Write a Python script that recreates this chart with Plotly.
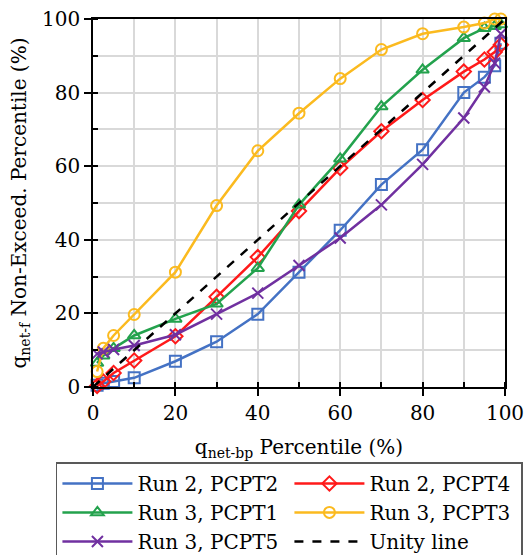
import plotly.graph_objects as go

x_pct = [1, 2.5, 5, 10, 20, 30, 40, 50, 60, 70, 80, 90, 95, 97.5, 99]

run2_pcpt2 = [0.5, 1.0, 1.5, 2.5, 7.0, 12.3, 19.8, 31.2, 42.6, 55.0, 64.5, 80.0, 84.2, 87.3, 93.4]
run2_pcpt4 = [0.3, 1.5, 3.8, 7.2, 13.8, 24.5, 35.3, 47.8, 59.5, 69.5, 78.0, 85.7, 89.0, 91.0, 93.0]
run3_pcpt1 = [6.5, 8.5, 10.5, 14.0, 18.5, 22.6, 32.3, 49.5, 62.0, 76.2, 86.2, 94.8, 97.5, 98.0, 98.5]
run3_pcpt3 = [4.2, 10.5, 14.0, 19.7, 31.2, 49.3, 64.2, 74.4, 83.8, 91.7, 96.0, 97.8, 98.9, 100.0, 100.0]
run3_pcpt5 = [9.0, 9.5, 10.2, 11.3, 14.2, 19.8, 25.5, 33.0, 40.5, 49.5, 60.5, 73.1, 81.5, 88.0, 96.0]
unity_x = [0, 100]
unity_y = [0, 100]

series = [
    ("Run 2, PCPT2", run2_pcpt2, "#4472C4", "square-open"),
    ("Run 2, PCPT4", run2_pcpt4, "#FF1A1A", "diamond-open"),
    ("Run 3, PCPT1", run3_pcpt1, "#23A24D", "triangle-up-open"),
    ("Run 3, PCPT3", run3_pcpt3, "#FBBA1F", "circle-open"),
    ("Run 3, PCPT5", run3_pcpt5, "#7030A0", "x-thin-open"),
]

FONT = "DejaVu Serif"
fig = go.Figure()
for name, ys, col, sym in series:
    fig.add_trace(go.Scatter(
        x=x_pct, y=ys, name=name, mode="lines+markers",
        line=dict(color=col, width=2.5),
        marker=dict(symbol=sym, size=11, color=col, line=dict(color=col, width=2)),
        cliponaxis=False,
    ))
fig.add_trace(go.Scatter(
    x=unity_x, y=unity_y, name="Unity line", mode="lines",
    line=dict(color="black", width=2.5, dash="dash"),
))

axis_common = dict(
    range=[0, 100], tickvals=[0, 20, 40, 60, 80, 100],
    showgrid=True, gridcolor="#D9D9D9", gridwidth=2,
    minor=dict(dtick=10, showgrid=True, gridcolor="#D9D9D9", gridwidth=2,
               ticks="inside", ticklen=5, tickcolor="black"),
    ticks="outside", ticklen=7, tickcolor="black", tickwidth=1.5,
    showline=True, linecolor="black", linewidth=1.5, mirror=True,
    zeroline=False, tickfont=dict(family=FONT, size=20, color="black"),
)

fig.update_layout(
    width=531, height=555,
    margin=dict(l=93, r=26, t=19, b=168, autoexpand=False),
    paper_bgcolor="white", plot_bgcolor="white",
    font=dict(family=FONT, size=20, color="black"),
    showlegend=True,
    legend=dict(
        orientation="h", x=-0.09, xanchor="left", y=-0.205, yanchor="top",
        entrywidth=147, entrywidthmode="pixels", itemwidth=70,
        bordercolor="#595959", borderwidth=1.5, bgcolor="white",
        font=dict(family=FONT, size=20, color="black"),
        traceorder="normal",
    ),
)
fig.update_xaxes(**axis_common, title=dict(text="q<sub>net-bp</sub> Percentile (%)",
                 font=dict(family=FONT, size=20), standoff=16))
fig.update_yaxes(**axis_common, title=dict(text="q<sub>net-f</sub> Non-Exceed. Percentile (%)",
                 font=dict(family=FONT, size=20), standoff=10))

fig.write_html("out.html")
